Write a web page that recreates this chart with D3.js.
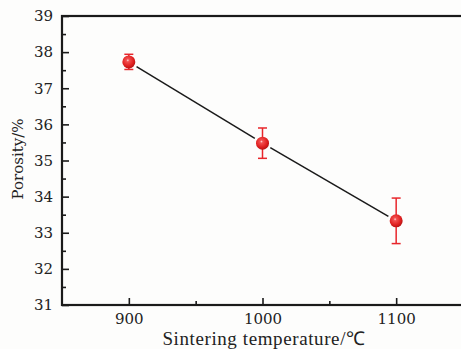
<!DOCTYPE html>
<html>
<head>
<meta charset="utf-8">
<script src="https://cdn.jsdelivr.net/npm/d3@7"></script>
<style>
  html, body { margin: 0; padding: 0; background: #fdfdfc; }
  svg { display: block; }
</style>
</head>
<body>
<svg id="chart" width="461" height="349"></svg>
<script>
// Porosity vs sintering temperature
const temperatures = [900, 1000, 1100];
const porosity = [37.73, 35.48, 33.33];
const porosityErr = [0.21, 0.42, 0.63];
const xTicks = [900, 1000, 1100];
const yTicks = [31, 32, 33, 34, 35, 36, 37, 38, 39];

const W = 461, H = 349;
const margin = { left: 62, top: 16, right: -2, bottom: 44 };
const svg = d3.select("#chart");

const x = d3.scaleLinear().domain([850, 1150]).range([margin.left, W - margin.right]);
const y = d3.scaleLinear().domain([31, 39]).range([H - margin.bottom, margin.top]);

const tickFont = "'DejaVu Serif', serif";
const labelFont = "'Liberation Serif', 'Times New Roman', serif";

// defs: sphere-like shading for markers
const defs = svg.append("defs");
const grad = defs.append("radialGradient").attr("id", "ball")
  .attr("cx", "0.42").attr("cy", "0.38").attr("r", "0.62");
grad.append("stop").attr("offset", "0").attr("stop-color", "#ffd6d6");
grad.append("stop").attr("offset", "0.18").attr("stop-color", "#f25050");
grad.append("stop").attr("offset", "0.7").attr("stop-color", "#e02020");
grad.append("stop").attr("offset", "1").attr("stop-color", "#b81414");

// axes (ticks point inward)
const xAxis = d3.axisBottom(x).tickValues(xTicks).tickSize(-7).tickPadding(8).tickFormat(d3.format("d"));
const xMinor = d3.axisBottom(x).tickValues([950, 1050]).tickSize(-4).tickFormat("");
const yAxis = d3.axisLeft(y).tickValues(yTicks).tickSize(-7).tickPadding(9).tickFormat(d3.format("d"));
const yMinor = d3.axisLeft(y).tickValues(d3.range(31.5, 39, 1)).tickSize(-4).tickFormat("");

function styleAxis(g) {
  g.select(".domain").remove();
  g.selectAll(".tick line").attr("stroke", "#1a1a1a").attr("stroke-width", 1.6);
  g.selectAll("text").attr("fill", "#222").style("font-family", tickFont).style("font-size", "15px");
}

svg.append("g").attr("transform", `translate(0,${H - margin.bottom})`).call(xAxis).call(styleAxis);
svg.append("g").attr("transform", `translate(0,${H - margin.bottom})`).call(xMinor).call(styleAxis);
svg.append("g").attr("transform", `translate(${margin.left},0)`).call(yAxis).call(styleAxis);
svg.append("g").attr("transform", `translate(${margin.left},0)`).call(yMinor).call(styleAxis);

// frame
svg.append("rect")
  .attr("x", margin.left).attr("y", margin.top)
  .attr("width", x(1150) - margin.left).attr("height", y(31) - margin.top)
  .attr("fill", "none").attr("stroke", "#1a1a1a").attr("stroke-width", 2.2);

// connecting line with gaps at the markers
const gap = 9;
for (let i = 0; i < temperatures.length - 1; i++) {
  const x0 = x(temperatures[i]), y0 = y(porosity[i]);
  const x1 = x(temperatures[i + 1]), y1 = y(porosity[i + 1]);
  const len = Math.hypot(x1 - x0, y1 - y0);
  const ux = (x1 - x0) / len, uy = (y1 - y0) / len;
  svg.append("line")
    .attr("x1", x0 + ux * gap).attr("y1", y0 + uy * gap)
    .attr("x2", x1 - ux * gap).attr("y2", y1 - uy * gap)
    .attr("stroke", "#1a1a1a").attr("stroke-width", 1.5);
}

// error bars
const errCol = "#e8262b";
const eb = svg.append("g").attr("stroke", errCol).attr("stroke-width", 1.5);
temperatures.forEach((t, i) => {
  const cx = x(t), top = y(porosity[i] + porosityErr[i]), bot = y(porosity[i] - porosityErr[i]);
  eb.append("line").attr("x1", cx).attr("x2", cx).attr("y1", top).attr("y2", bot);
  eb.append("line").attr("x1", cx - 4.5).attr("x2", cx + 4.5).attr("y1", top).attr("y2", top);
  eb.append("line").attr("x1", cx - 4.5).attr("x2", cx + 4.5).attr("y1", bot).attr("y2", bot);
});

// markers
svg.append("g").selectAll("circle").data(temperatures).join("circle")
  .attr("cx", d => x(d)).attr("cy", (d, i) => y(porosity[i]))
  .attr("r", 6.5).attr("fill", "url(#ball)");

// axis titles
svg.append("text")
  .attr("x", 264).attr("y", 345)
  .attr("text-anchor", "middle")
  .style("font-family", labelFont).style("font-size", "19px").style("letter-spacing", "0.6px")
  .attr("fill", "#222")
  .text("Sintering temperature/℃");

svg.append("text")
  .attr("transform", "translate(23,159) rotate(-90)")
  .attr("text-anchor", "middle")
  .style("font-family", tickFont).style("font-size", "15px")
  .attr("fill", "#222")
  .text("Porosity/%");
</script>
</body>
</html>
